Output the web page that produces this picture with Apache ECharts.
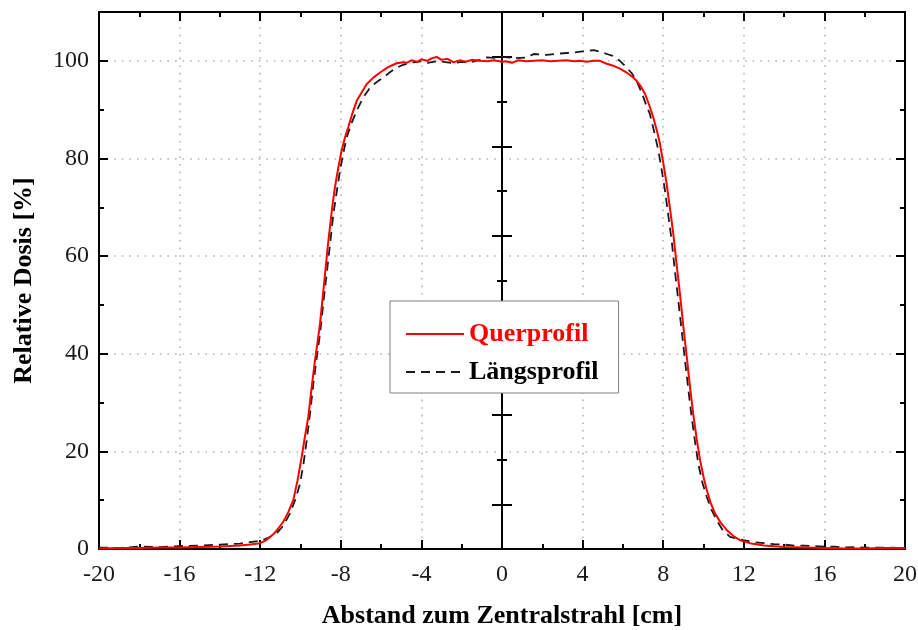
<!DOCTYPE html>
<html><head><meta charset="utf-8">
<script src="https://cdn.jsdelivr.net/npm/echarts@6/dist/echarts.min.js"></script>
<style>html,body{margin:0;padding:0;background:#fff}#c{width:918px;height:630px}</style>
</head><body><div id="c"></div><script>
// ---- data ----
const seriesNames = ['Querprofil', 'Längsprofil'];
const xTitle = 'Abstand zum Zentralstrahl [cm]';
const yTitle = 'Relative Dosis [%]';

const querX = [-20,-19,-18,-17,-16,-15,-14,-13.5,-13,-12.5,-12,-11.7,-11.35,-11.1,-10.85,-10.6,-10.36,-10.15,-9.94,-9.78,-9.61,-9.45,-9.28,-9.15,-9.03,-8.9,-8.78,-8.66,-8.54,-8.42,-8.29,-8.12,-7.96,-7.8,-7.63,-7.42,-7.21,-6.95,-6.72,-6.4,-6.05,-5.65,-5.23,-4.9,-4.73,-4.5,-4.2,-4.0,-3.7,-3.5,-3.24,-3.0,-2.7,-2.4,-2.1,-1.8,-1.5,-1.1,-0.7,-0.4,0,0.2,0.5,0.8,1.2,1.6,2.0,2.4,2.8,3.2,3.6,3.87,4.2,4.55,4.86,5.2,5.52,5.85,6.19,6.45,6.68,6.9,7.1,7.3,7.51,7.68,7.84,8.0,8.17,8.33,8.5,8.66,8.83,9.0,9.17,9.33,9.49,9.66,9.83,10.0,10.16,10.35,10.57,10.85,11.15,11.5,11.81,12.3,13,14,15,16,17,18,19,20];
const querY = [0.1,0.2,0.2,0.3,0.3,0.4,0.5,0.6,0.7,0.9,1.2,1.8,3.0,4.2,5.6,7.6,10.0,14.0,18.9,23,27.1,33,38.7,42.5,46.2,51.5,56.4,61.5,65.9,70.2,74.1,78.2,81.6,84.2,86.4,89.3,91.8,93.6,95.2,96.5,97.6,98.7,99.5,99.7,99.6,100.1,99.8,100.3,100.0,100.5,100.8,100.2,100.4,99.7,100.1,99.8,100.2,100.0,99.9,100.1,99.8,99.9,99.6,100.1,99.9,100.0,100.1,99.9,100.0,100.1,99.9,100.0,99.8,100.0,100.0,99.4,99.0,98.4,97.6,96.8,95.9,94.7,93.2,91.0,88.4,85.8,83.0,79.2,74.8,70.0,64.6,58.5,52.3,45.6,39.3,33.2,27.7,22.6,18.2,14.8,12.1,9.5,7.3,5.4,3.9,2.6,1.8,1.2,0.7,0.4,0.3,0.2,0.1,0.1,0.2,0.2];

const laengsX = [-20,-19,-18,-17,-16,-15,-14,-13.5,-13,-12.5,-12,-11.6,-11.18,-10.85,-10.52,-10.25,-10.02,-9.85,-9.69,-9.52,-9.36,-9.2,-9.03,-8.87,-8.7,-8.53,-8.37,-8.2,-8.04,-7.88,-7.71,-7.46,-7.21,-6.9,-6.55,-6.2,-5.88,-5.55,-5.23,-4.95,-4.7,-4.4,-4.04,-3.7,-3.24,-2.9,-2.4,-2.0,-1.56,-1.1,-0.74,-0.4,-0.08,0.3,0.58,0.9,1.24,1.57,1.9,2.23,2.6,2.9,3.2,3.56,3.9,4.25,4.55,4.9,5.2,5.5,5.85,6.19,6.45,6.68,6.95,7.15,7.34,7.55,7.76,7.92,8.09,8.25,8.42,8.58,8.75,8.92,9.08,9.25,9.41,9.58,9.74,9.95,10.16,10.4,10.65,10.95,11.32,11.98,12.5,13,13.5,14,14.5,15,15.5,16,16.5,17,17.5,18,19,20];
const laengsY = [0.3,0.2,0.5,0.4,0.6,0.7,0.9,1.0,1.1,1.4,1.7,2.3,3.2,4.8,7.3,10.2,13.4,17.5,22.3,28,33.9,39,44.1,50.3,56.4,62.6,68.6,73.2,77.5,81.0,84.3,87.3,89.8,92.4,94.5,95.7,96.6,97.7,98.6,99.1,99.4,99.7,99.9,99.6,99.9,99.8,99.5,99.8,99.7,100.2,100.7,100.6,100.8,100.7,100.5,100.6,100.7,101.4,101.3,101.2,101.4,101.5,101.6,101.7,101.9,102.0,102.2,101.8,101.4,101.0,100.0,98.6,97.4,95.9,93.3,91.0,89.1,85.5,81.6,77.8,73.4,68.4,63.2,57.0,50.9,44.6,38.7,32.6,27.1,22.0,17.5,13.5,10.7,8.0,5.9,3.9,2.5,1.8,1.4,1.2,1.0,0.9,0.7,0.7,0.6,0.5,0.5,0.3,0.4,0.3,0.3,0.2];

// center axis (own scale 0..12): long ticks at odd steps, short ticks at even steps
const centerLongTicks = [1, 3, 5, 7, 9, 11];
const centerShortTicks = [2, 4, 6, 8, 10];

// ---- chart ----
const FONT = 'Liberation Serif';
const black = '#000';
const pairs = (xs, ys) => xs.map((x, i) => [x, ys[i]]);
const frameLine = {show: true, onZero: false, lineStyle: {color: black, width: 2}};
const noLine = {show: false, onZero: false};
const dotted = {show: true, lineStyle: {color: '#b4b4b4', width: 1.6, type: [1.6, 6]}};
const longTick = (inside) => ({show: true, inside, length: 9, lineStyle: {color: black, width: 2}});
const shortTick = (inside) => ({show: true, inside, length: 5, lineStyle: {color: black, width: 2}});
const noLabel = {show: false};
const off = {show: false};

const xb = {type: 'value', min: -20, max: 20};
const yb = {type: 'value', min: 0, max: 110};
const cb = {type: 'value', min: 0, max: 12, interval: 1, position: 'left',
  axisLine: {show: true, onZero: true, onZeroAxisIndex: 0, lineStyle: {color: black, width: 2}},
  axisLabel: noLabel, splitLine: off};
const cTick = (vals, inside, len) => ({show: true, inside, length: len, customValues: vals, lineStyle: {color: black, width: 2}});

const option = {
  animation: false,
  backgroundColor: '#fff',
  grid: {left: 99, right: 13, top: 12, bottom: 81, containLabel: false, outerBoundsMode: 'none'},
  xAxis: [
    {...xb, position: 'bottom', interval: 4, axisLine: frameLine, axisTick: longTick(true),
      axisLabel: {fontFamily: FONT, fontSize: 24, color: '#1a1a1a', margin: 14},
      splitLine: dotted,
      name: xTitle, nameLocation: 'middle', nameGap: 54,
      nameTextStyle: {fontFamily: FONT, fontSize: 26, fontWeight: 'bold', color: '#000'}},
    {...xb, position: 'bottom', interval: 2, axisLine: noLine, axisTick: shortTick(true), axisLabel: noLabel, splitLine: off},
    {...xb, position: 'top', interval: 4, axisLine: frameLine, axisTick: longTick(true), axisLabel: noLabel, splitLine: off},
    {...xb, position: 'top', interval: 2, axisLine: noLine, axisTick: shortTick(true), axisLabel: noLabel, splitLine: off}
  ],
  yAxis: [
    {...yb, position: 'left', interval: 20, axisLine: frameLine, axisTick: longTick(true),
      axisLabel: {fontFamily: FONT, fontSize: 24, color: '#1a1a1a', margin: 10, showMaxLabel: false},
      splitLine: dotted,
      name: yTitle, nameLocation: 'middle', nameGap: 62,
      nameTextStyle: {fontFamily: FONT, fontSize: 26, fontWeight: 'bold', color: '#000'}},
    {...yb, position: 'left', interval: 10, axisLine: noLine, axisTick: shortTick(true), axisLabel: noLabel, splitLine: off},
    {...yb, position: 'right', interval: 20, axisLine: frameLine, axisTick: longTick(true), axisLabel: noLabel, splitLine: off},
    {...yb, position: 'right', interval: 10, axisLine: noLine, axisTick: shortTick(true), axisLabel: noLabel, splitLine: off},
    {...cb, axisTick: cTick(centerLongTicks, true, 10)},
    {...cb, axisTick: cTick(centerLongTicks, false, 10)},
    {...cb, axisTick: cTick(centerShortTicks, true, 5)},
    {...cb, axisTick: cTick(centerShortTicks, false, 5)}
  ],
  legend: {
    orient: 'vertical', left: 390, top: 301,
    padding: [20, 20, 8, 15], itemWidth: 58, itemHeight: 14, itemGap: 12,
    backgroundColor: '#fff', borderColor: '#808080', borderWidth: 1, borderRadius: 0,
    itemStyle: {color: 'rgba(0,0,0,0)', borderWidth: 0, opacity: 0},
    textStyle: {fontFamily: FONT, fontSize: 26, fontWeight: 'bold'},
    data: [
      {name: seriesNames[0], textStyle: {color: '#ff0000'}},
      {name: seriesNames[1], textStyle: {color: '#000'}}
    ]
  },
  series: [
    {name: seriesNames[0], type: 'line', xAxisIndex: 0, yAxisIndex: 0, data: pairs(querX, querY),
      symbol: 'none', smooth: false, lineStyle: {color: '#ff0000', width: 2}, itemStyle: {color: '#ff0000'}, z: 3},
    {name: seriesNames[1], type: 'line', xAxisIndex: 0, yAxisIndex: 0, data: pairs(laengsX, laengsY),
      symbol: 'none', smooth: false, lineStyle: {color: '#1a1a1a', width: 1.8, type: [9, 6]}, itemStyle: {color: '#1a1a1a'}, z: 2}
  ]
};
const chart = echarts.init(document.getElementById('c'), null, {renderer: 'canvas'});
chart.setOption(option);
</script></body></html>
